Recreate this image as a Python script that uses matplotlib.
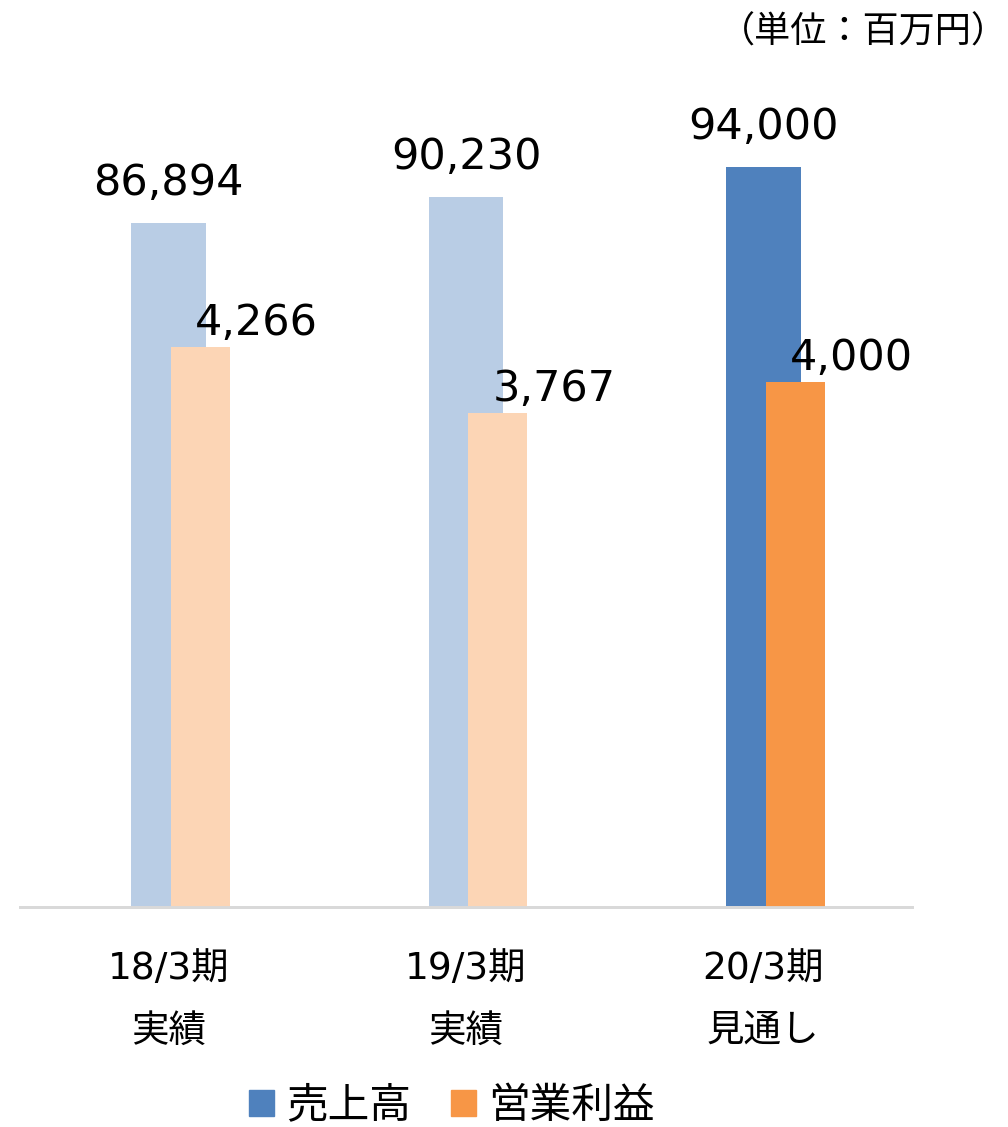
import matplotlib
matplotlib.use("Agg")
import matplotlib.pyplot as plt
from matplotlib.patches import Patch

plt.rcParams['font.family'] = ['Noto Sans CJK JP', 'DejaVu Sans']
NUM_FONT = ['DejaVu Sans', 'Noto Sans CJK JP']

periods = ["18/3期\n実績", "19/3期\n実績", "20/3期\n見通し"]
sales = [86894, 90230, 94000]
profit = [4266, 3767, 4000]
sales_colors = ["#B9CDE5", "#B9CDE5", "#4F81BD"]
profit_colors = ["#FCD5B5", "#FCD5B5", "#F79646"]
legend_labels = ["売上高", "営業利益"]
unit_text = "（単位：百万円）"


def main():
    fig = plt.figure(figsize=(10.08, 11.27), dpi=100)
    ax = fig.add_axes([20 / 1008, 220 / 1127, 892 / 1008, 787 / 1127])
    ax2 = ax.twinx()

    x = list(range(len(periods)))
    ax.bar(x, sales, width=0.252, color=sales_colors, zorder=2)
    ax2.bar([i + 0.107 for i in x], profit, width=0.198, color=profit_colors, zorder=2)

    ax.set_xlim(-0.5, 2.5)
    ax.set_ylim(0, 100000)
    ax2.set_ylim(0, 6000)

    for i, v in enumerate(sales):
        ax.annotate(f"{v:,}", (i, v), xytext=(0, 28), textcoords="offset pixels",
                    ha="center", va="baseline", fontsize=31, family=NUM_FONT)
    for i, v in enumerate(profit):
        ax2.annotate(f"{v:,}", (i + 0.107, v), xytext=(56, 12), textcoords="offset pixels",
                     ha="center", va="baseline", fontsize=31, family=NUM_FONT)

    ax.set_xticks(x, periods, fontsize=27, linespacing=1.95, family=NUM_FONT)
    ax.tick_params(axis="x", length=0, pad=32)
    ax.set_yticks([])
    ax2.set_yticks([])
    for a in (ax, ax2):
        for s in ("top", "left", "right"):
            a.spines[s].set_visible(False)
        a.spines["bottom"].set_color("#D9D9D9")
        a.spines["bottom"].set_linewidth(2)
    ax.patch.set_visible(False)

    fig.text(1.0, 1 - 33 / 1127, unit_text, ha="right", va="center", fontsize=26)

    handles = [Patch(color="#4F81BD"), Patch(color="#F79646")]
    fig.legend(handles, legend_labels, loc="center", bbox_to_anchor=(0.448, 21 / 1127),
               ncol=2, frameon=False, fontsize=30, handlelength=0.6, handleheight=0.6,
               handletextpad=0.3, columnspacing=0.95)

    fig.savefig("out.png", dpi=100)


if __name__ == "__main__":
    main()
